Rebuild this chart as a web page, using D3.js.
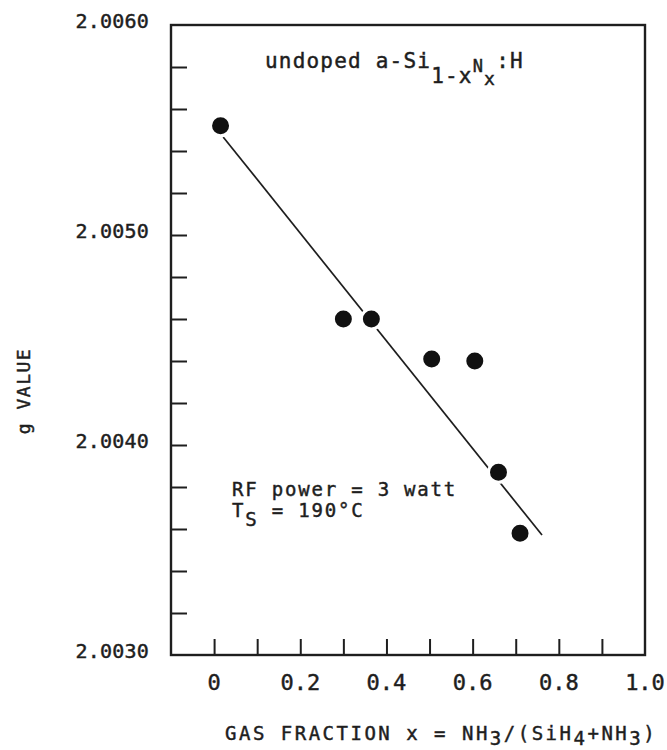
<!DOCTYPE html>
<html>
<head>
<meta charset="utf-8">
<script src="https://cdn.jsdelivr.net/npm/d3@7"></script>
<style>
  body { margin: 0; background: #fff; }
  text { font-family: "DejaVu Sans Mono", monospace; fill: #1e1e1e; stroke: #1e1e1e; stroke-width: 0.45px; }
</style>
</head>
<body>
<svg id="chart" width="667" height="750"></svg>
<script>
// g value of undoped a-Si(1-x)N(x):H versus NH3 gas fraction
const gasFraction = [0.015, 0.30, 0.365, 0.505, 0.605, 0.66, 0.71];
const gValue      = [2.00552, 2.00460, 2.00460, 2.00441, 2.00440, 2.00387, 2.00358];

// straight guide line through the data
const fitX = [0.021, 0.761];
const fitG = [2.005467, 2.003571];

// axes
const xTicks = [0, 0.1, 0.2, 0.3, 0.4, 0.5, 0.6, 0.7, 0.8, 0.9];
const xLabelValues = [0, 0.2, 0.4, 0.6, 0.8, 1.0];
const xLabelText = ["0", "0.2", "0.4", "0.6", "0.8", "1.0"];
const yTicks = [2.0032, 2.0034, 2.0036, 2.0038, 2.0040, 2.0042, 2.0044, 2.0046,
                2.0048, 2.0050, 2.0052, 2.0054, 2.0056, 2.0058];
const yLabelValues = [2.0030, 2.0040, 2.0050, 2.0060];
const yLabelText = ["2.0030", "2.0040", "2.0050", "2.0060"];

const svg = d3.select("#chart");
const ink = "#1e1e1e";

const x = d3.scaleLinear().domain([-0.1, 1.0]).range([171, 645]);
const y = d3.scaleLinear().domain([2.0030, 2.0060]).range([655, 25]);

// frame
svg.append("rect")
  .attr("x", x(-0.1)).attr("y", y(2.0060))
  .attr("width", x(1.0) - x(-0.1)).attr("height", y(2.0030) - y(2.0060))
  .attr("fill", "none").attr("stroke", ink).attr("stroke-width", 2.4);

// inward ticks on the bottom axis
const xAxis = d3.axisTop(x).tickValues(xTicks).tickSize(16).tickFormat("");
svg.append("g").attr("transform", `translate(0,${y(2.0030)})`).call(xAxis)
  .call(g => g.select(".domain").remove())
  .call(g => g.selectAll("line").attr("stroke", ink).attr("stroke-width", 2));

// inward ticks on the left axis
const yAxis = d3.axisRight(y).tickValues(yTicks).tickSize(16).tickFormat("");
svg.append("g").attr("transform", `translate(${x(-0.1)},0)`).call(yAxis)
  .call(g => g.select(".domain").remove())
  .call(g => g.selectAll("line").attr("stroke", ink).attr("stroke-width", 2));

// tick labels
svg.append("g").selectAll("text").data(xLabelValues).join("text")
  .attr("x", d => x(d)).attr("y", 690)
  .attr("text-anchor", "middle")
  .style("font-size", "22px")
  .text((d, i) => xLabelText[i]);

svg.append("g").selectAll("text").data(yLabelValues).join("text")
  .attr("x", 149).attr("y", d => y(d) + 3)
  .attr("text-anchor", "end")
  .style("font-size", "20px").style("letter-spacing", "0.2px")
  .text((d, i) => yLabelText[i]);

// axis titles
const xt = svg.append("text").attr("x", 225).attr("y", 740)
  .style("font-size", "19px").style("letter-spacing", "2.5px");
xt.append("tspan").text("GAS FRACTION x = NH");
xt.append("tspan").attr("dy", 5).text("3");
xt.append("tspan").attr("dy", -5).text("/(SiH");
xt.append("tspan").attr("dy", 5).text("4");
xt.append("tspan").attr("dy", -5).text("+NH");
xt.append("tspan").attr("dy", 5).text("3");
xt.append("tspan").attr("dy", -5).text(")");

svg.append("text")
  .attr("transform", "translate(30,391) rotate(-90)")
  .attr("text-anchor", "middle")
  .style("font-size", "18px").style("letter-spacing", "1.5px")
  .text("g VALUE");

// sample label
const t1 = svg.append("text").attr("x", 265).attr("y", 68)
  .style("font-size", "21px").style("letter-spacing", "1.2px");
t1.append("tspan").text("undoped a-Si");
t1.append("tspan").attr("dy", 15).text("1-x");
t1.append("tspan").attr("dy", -11).style("font-size", "17px").text("N");
t1.append("tspan").attr("dy", 13).style("font-size", "18px").text("x");
t1.append("tspan").attr("dy", -17).text(":H");

// deposition conditions
svg.append("text").attr("x", 232).attr("y", 496)
  .style("font-size", "19px").style("letter-spacing", "1.8px")
  .text("RF power = 3 watt");
const t3 = svg.append("text").attr("x", 232).attr("y", 517)
  .style("font-size", "19px").style("letter-spacing", "1.8px");
t3.append("tspan").text("T");
t3.append("tspan").attr("dy", 9).text("S");
t3.append("tspan").attr("dy", -9).text(" = 190°C");

// guide line
const line = d3.line().x(d => x(d[0])).y(d => y(d[1]));
svg.append("path")
  .datum(d3.zip(fitX, fitG))
  .attr("d", line)
  .attr("fill", "none").attr("stroke", ink).attr("stroke-width", 1.7);

// data points
svg.append("g").selectAll("circle").data(d3.zip(gasFraction, gValue)).join("circle")
  .attr("cx", d => x(d[0])).attr("cy", d => y(d[1]))
  .attr("r", 10)
  .attr("fill", "#111").attr("stroke", "#fff").attr("stroke-width", 3);
</script>
</body>
</html>
